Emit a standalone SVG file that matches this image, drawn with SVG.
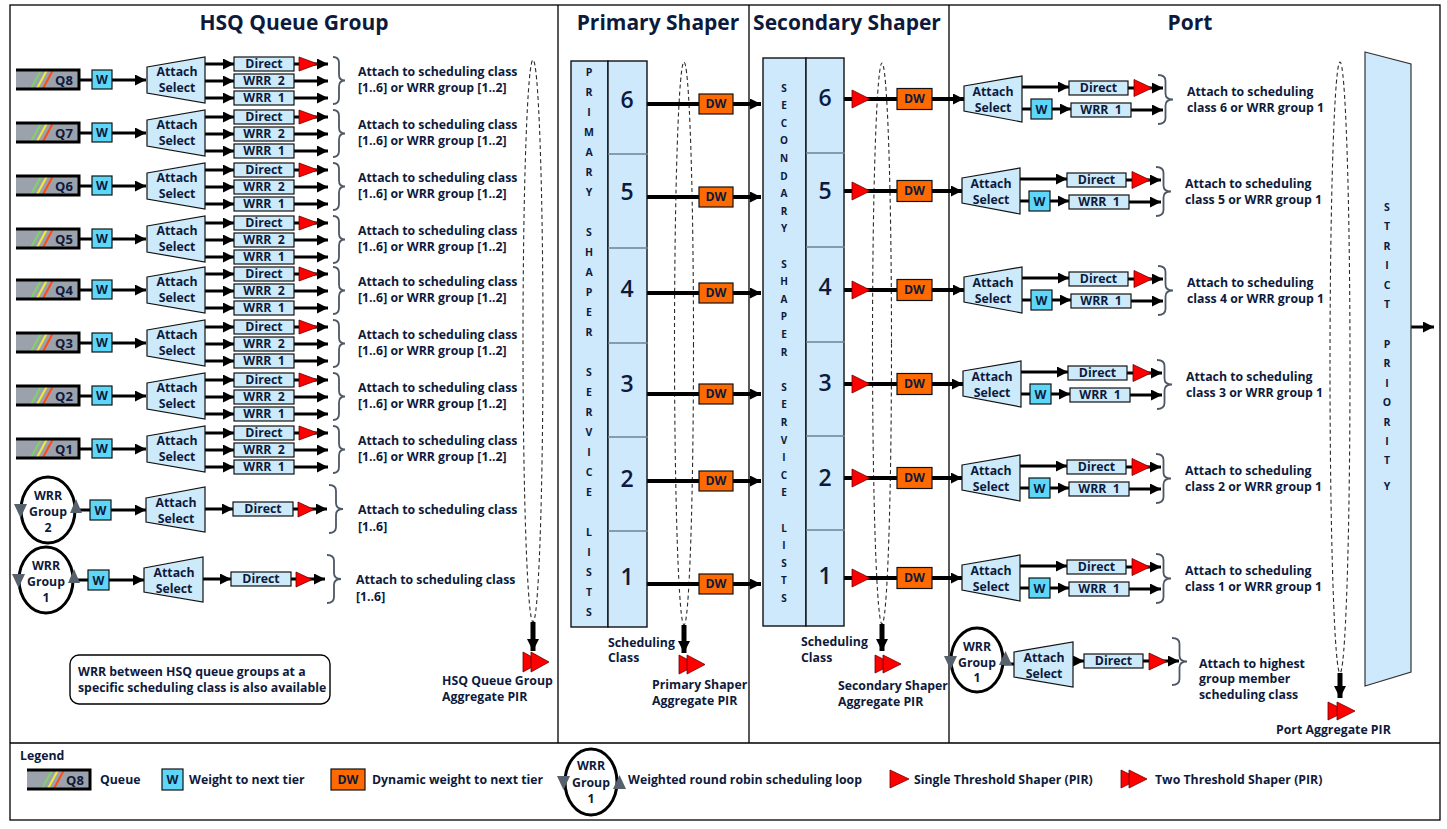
<svg xmlns="http://www.w3.org/2000/svg" width="1447" height="829" viewBox="0 0 1447 829">
<defs>
<style>
.t{font-family:"Open Sans","Liberation Sans",Arial,sans-serif;font-weight:700;fill:#0e1a3c}
.f12{font-size:12.3px}
.f13{font-size:13px}
.f11{font-size:10.5px}
.f10{font-size:10px}
.f21{font-size:21px}
.num{font-size:23px;font-weight:600}
.m{text-anchor:middle}
.box{fill:#cdeafb;stroke:#111;stroke-width:1.2}
.w{fill:#5dd6f7;stroke:#111;stroke-width:1.2}
.dw{fill:#ff6a00;stroke:#111;stroke-width:1.2}
.red{fill:#ff0000;stroke:#6b0000;stroke-width:0.8}
.gry{fill:#57616d}
.ln{fill:none;stroke:#000;stroke-width:3}
.ln2{fill:none;stroke:#000;stroke-width:4}
.lnb{fill:none;stroke:#000;stroke-width:5}
.a{marker-end:url(#ah)}
.ab{marker-end:url(#ahb)}
.br{fill:none;stroke:#4d5866;stroke-width:1.8}
.dash{fill:none;stroke:#2b2b2b;stroke-width:1.1;stroke-dasharray:4 3}
.fr{fill:none;stroke:#000;stroke-width:1.3}
.col{fill:#cde9fb;stroke:#111;stroke-width:1.4}
.div{stroke:#6e8294;stroke-width:1.4}
.loop{fill:#fff;stroke:#000;stroke-width:3}
.qbar{fill:#9ba2ab}
.qb{fill:none;stroke:#000;stroke-width:3}
.sg{stroke:#7ed36a;stroke-width:2}
.sy{stroke:#f4ea3c;stroke-width:2}
.sr{stroke:#ff4b17;stroke-width:2}
</style>
<marker id="ah" viewBox="0 0 10 10" refX="10" refY="5" markerWidth="11" markerHeight="11" markerUnits="userSpaceOnUse" orient="auto"><path d="M0,0 L10,5 L0,10 z" fill="#000"/></marker>
<marker id="ahb" viewBox="0 0 10 10" refX="10" refY="5" markerWidth="12" markerHeight="12" markerUnits="userSpaceOnUse" orient="auto"><path d="M0,0 L10,5 L0,10 z" fill="#000"/></marker>
</defs>
<rect x="0" y="0" width="1447" height="829" fill="#fff"/>

<g id="frame">
<rect class="fr" x="10" y="5" width="1430" height="815"/>
<path class="fr" d="M558,5V743 M749,5V743 M949,5V743 M10,743H1440"/>
<text class="t f21 m" x="294" y="30">HSQ Queue Group</text>
<text class="t f21 m" x="658" y="30">Primary Shaper</text>
<text class="t f21 m" x="847" y="30">Secondary Shaper</text>
<text class="t f21 m" x="1190" y="30">Port</text>
</g>

<g id="aggregate-loops">
<ellipse class="dash" cx="533" cy="341" rx="10" ry="281"/>
<ellipse class="dash" cx="684" cy="343.5" rx="9.5" ry="281.5"/>
<ellipse class="dash" cx="882" cy="343.5" rx="9.5" ry="280.5"/>
<ellipse class="dash" cx="1340" cy="367.5" rx="10" ry="305.5"/>
</g>

<g id="connectors">
<g id="c-q8" transform="translate(0,0)"><path class="ln" d="M79,80H92"/><path class="ln a" d="M112,80H146"/><path class="ln a" d="M205,64H234"/><path class="ln a" d="M205,81H234"/><path class="ln a" d="M205,98H234"/><path class="ln a" d="M294,64H328"/><path class="ln a" d="M294,81H328"/><path class="ln a" d="M294,98H328"/></g>
<g id="c-q7" transform="translate(0,53)"><path class="ln" d="M79,80H92"/><path class="ln a" d="M112,80H146"/><path class="ln a" d="M205,64H234"/><path class="ln a" d="M205,81H234"/><path class="ln a" d="M205,98H234"/><path class="ln a" d="M294,64H328"/><path class="ln a" d="M294,81H328"/><path class="ln a" d="M294,98H328"/></g>
<g id="c-q6" transform="translate(0,106)"><path class="ln" d="M79,80H92"/><path class="ln a" d="M112,80H146"/><path class="ln a" d="M205,64H234"/><path class="ln a" d="M205,81H234"/><path class="ln a" d="M205,98H234"/><path class="ln a" d="M294,64H328"/><path class="ln a" d="M294,81H328"/><path class="ln a" d="M294,98H328"/></g>
<g id="c-q5" transform="translate(0,159)"><path class="ln" d="M79,80H92"/><path class="ln a" d="M112,80H146"/><path class="ln a" d="M205,64H234"/><path class="ln a" d="M205,81H234"/><path class="ln a" d="M205,98H234"/><path class="ln a" d="M294,64H328"/><path class="ln a" d="M294,81H328"/><path class="ln a" d="M294,98H328"/></g>
<g id="c-q4" transform="translate(0,210)"><path class="ln" d="M79,80H92"/><path class="ln a" d="M112,80H146"/><path class="ln a" d="M205,64H234"/><path class="ln a" d="M205,81H234"/><path class="ln a" d="M205,98H234"/><path class="ln a" d="M294,64H328"/><path class="ln a" d="M294,81H328"/><path class="ln a" d="M294,98H328"/></g>
<g id="c-q3" transform="translate(0,263)"><path class="ln" d="M79,80H92"/><path class="ln a" d="M112,80H146"/><path class="ln a" d="M205,64H234"/><path class="ln a" d="M205,81H234"/><path class="ln a" d="M205,98H234"/><path class="ln a" d="M294,64H328"/><path class="ln a" d="M294,81H328"/><path class="ln a" d="M294,98H328"/></g>
<g id="c-q2" transform="translate(0,316)"><path class="ln" d="M79,80H92"/><path class="ln a" d="M112,80H146"/><path class="ln a" d="M205,64H234"/><path class="ln a" d="M205,81H234"/><path class="ln a" d="M205,98H234"/><path class="ln a" d="M294,64H328"/><path class="ln a" d="M294,81H328"/><path class="ln a" d="M294,98H328"/></g>
<g id="c-q1" transform="translate(0,369)"><path class="ln" d="M79,80H92"/><path class="ln a" d="M112,80H146"/><path class="ln a" d="M205,64H234"/><path class="ln a" d="M205,81H234"/><path class="ln a" d="M205,98H234"/><path class="ln a" d="M294,64H328"/><path class="ln a" d="M294,81H328"/><path class="ln a" d="M294,98H328"/></g>
<g id="c-g2"><path class="ln" d="M75,510H90"/><path class="ln a" d="M111,510H146"/><path class="ln a" d="M205,509H233"/><path class="ln a" d="M293,509H327"/></g>
<g id="c-g1" transform="translate(-2,70)"><path class="ln" d="M75,510H90"/><path class="ln a" d="M111,510H146"/><path class="ln a" d="M205,509H233"/><path class="ln a" d="M293,509H327"/></g>
<path class="lnb ab" d="M533,622V651"/>
<g id="c-primary">
<path class="ln2 a" d="M647,104H761"/><path class="ln2 a" d="M647,197H761"/><path class="ln2 a" d="M647,293H761"/><path class="ln2 a" d="M647,394H761"/><path class="ln2 a" d="M647,481H761"/><path class="ln2 a" d="M647,584H761"/>
</g>
<path class="lnb ab" d="M684,625V653"/>
<g id="c-secondary">
<path class="ln2" d="M844,99H897"/><path class="ln2 a" d="M932,99H964"/>
<path class="ln2" d="M844,191H897"/><path class="ln2 a" d="M932,191H962"/>
<path class="ln2" d="M844,290H897"/><path class="ln2 a" d="M932,290H964"/>
<path class="ln2" d="M844,384H897"/><path class="ln2 a" d="M932,384H963"/>
<path class="ln2" d="M844,478H897"/><path class="ln2 a" d="M932,478H962"/>
<path class="ln2" d="M844,578H897"/><path class="ln2 a" d="M932,578H962"/>
</g>
<path class="lnb ab" d="M882,624V651"/>
<g id="c-p6" transform="translate(0,0)"><path class="ln a" d="M1022,87H1069"/><path class="ln a" d="M1128,88H1163"/><path class="ln" d="M1022,109H1031"/><path class="ln a" d="M1052,109H1071"/><path class="ln a" d="M1131,110H1163"/></g>
<g id="c-p5" transform="translate(-2,92)"><path class="ln a" d="M1022,87H1069"/><path class="ln a" d="M1128,88H1163"/><path class="ln" d="M1022,109H1031"/><path class="ln a" d="M1052,109H1071"/><path class="ln a" d="M1131,110H1163"/></g>
<g id="c-p4" transform="translate(0,191)"><path class="ln a" d="M1022,87H1069"/><path class="ln a" d="M1128,88H1163"/><path class="ln" d="M1022,109H1031"/><path class="ln a" d="M1052,109H1071"/><path class="ln a" d="M1131,110H1163"/></g>
<g id="c-p3" transform="translate(-1,285)"><path class="ln a" d="M1022,87H1069"/><path class="ln a" d="M1128,88H1163"/><path class="ln" d="M1022,109H1031"/><path class="ln a" d="M1052,109H1071"/><path class="ln a" d="M1131,110H1163"/></g>
<g id="c-p2" transform="translate(-2,379)"><path class="ln a" d="M1022,87H1069"/><path class="ln a" d="M1128,88H1163"/><path class="ln" d="M1022,109H1031"/><path class="ln a" d="M1052,109H1071"/><path class="ln a" d="M1131,110H1163"/></g>
<g id="c-p1" transform="translate(-2,479)"><path class="ln a" d="M1022,87H1069"/><path class="ln a" d="M1128,88H1163"/><path class="ln" d="M1022,109H1031"/><path class="ln a" d="M1052,109H1071"/><path class="ln a" d="M1131,110H1163"/></g>
<g id="c-pg1"><path class="ln" d="M1003,664H1014"/><path class="ln a" d="M1073,661H1084"/><path class="ln a" d="M1143,661H1179"/></g>
<path class="lnb ab" d="M1340,673V698"/>
<path class="ln a" d="M1411,327H1434"/>
</g>

<!-- HSQ queue rows -->
<g id="hsq-q8" transform="translate(0,0)">
<g id="q8-queue"><rect class="qbar" x="16" y="69" width="63" height="21"/><path class="sg" d="M31,88.5L41,70.5"/><path class="sy" d="M37,88.5L47,70"/><path class="sr" d="M43,88.5L53,70"/><path class="qb" d="M16,70H79V89H16"/><text class="t f13 m" x="64" y="84.5">Q8</text></g>
<g id="q8-w"><rect class="w" x="92" y="70" width="20" height="19"/><text class="t f12 m" x="102" y="84">W</text></g>
<g id="q8-select"><polygon class="box" points="147,67 205,57 205,103 147,93"/><text class="t f12 m" x="177" y="75.5">Attach</text><text class="t f12 m" x="177" y="91.5">Select</text></g>
<g id="q8-direct"><rect class="box" x="234" y="57" width="60" height="14"/><text class="t f12 m" x="264" y="68.3">Direct</text></g>
<g id="q8-wrr2"><rect class="box" x="234" y="74" width="60" height="14"/><text class="t f12 m" x="264" y="85.3" word-spacing="3">WRR 2</text></g>
<g id="q8-wrr1"><rect class="box" x="234" y="91" width="60" height="14"/><text class="t f12 m" x="264" y="102.3" word-spacing="3">WRR 1</text></g>
<g id="q8-shaper"><polygon class="red" points="299,57 318,64 299,71"/></g>
<g id="q8-label"><path class="br" d="M333,57Q339,57 339,63V74.5Q339,80.5 345,80.5Q339,80.5 339,86.5V98Q339,104 333,104"/><text class="t f12" x="358" y="75.5">Attach to scheduling class</text><text class="t f12" x="358" y="91.5">[1..6] or WRR group [1..2]</text></g>
</g>
<g id="hsq-q7" transform="translate(0,53)">
<g id="q7-queue"><rect class="qbar" x="16" y="69" width="63" height="21"/><path class="sg" d="M31,88.5L41,70.5"/><path class="sy" d="M37,88.5L47,70"/><path class="sr" d="M43,88.5L53,70"/><path class="qb" d="M16,70H79V89H16"/><text class="t f13 m" x="64" y="84.5">Q7</text></g>
<g id="q7-w"><rect class="w" x="92" y="70" width="20" height="19"/><text class="t f12 m" x="102" y="84">W</text></g>
<g id="q7-select"><polygon class="box" points="147,67 205,57 205,103 147,93"/><text class="t f12 m" x="177" y="75.5">Attach</text><text class="t f12 m" x="177" y="91.5">Select</text></g>
<g id="q7-direct"><rect class="box" x="234" y="57" width="60" height="14"/><text class="t f12 m" x="264" y="68.3">Direct</text></g>
<g id="q7-wrr2"><rect class="box" x="234" y="74" width="60" height="14"/><text class="t f12 m" x="264" y="85.3" word-spacing="3">WRR 2</text></g>
<g id="q7-wrr1"><rect class="box" x="234" y="91" width="60" height="14"/><text class="t f12 m" x="264" y="102.3" word-spacing="3">WRR 1</text></g>
<g id="q7-shaper"><polygon class="red" points="299,57 318,64 299,71"/></g>
<g id="q7-label"><path class="br" d="M333,57Q339,57 339,63V74.5Q339,80.5 345,80.5Q339,80.5 339,86.5V98Q339,104 333,104"/><text class="t f12" x="358" y="75.5">Attach to scheduling class</text><text class="t f12" x="358" y="91.5">[1..6] or WRR group [1..2]</text></g>
</g>
<g id="hsq-q6" transform="translate(0,106)">
<g id="q6-queue"><rect class="qbar" x="16" y="69" width="63" height="21"/><path class="sg" d="M31,88.5L41,70.5"/><path class="sy" d="M37,88.5L47,70"/><path class="sr" d="M43,88.5L53,70"/><path class="qb" d="M16,70H79V89H16"/><text class="t f13 m" x="64" y="84.5">Q6</text></g>
<g id="q6-w"><rect class="w" x="92" y="70" width="20" height="19"/><text class="t f12 m" x="102" y="84">W</text></g>
<g id="q6-select"><polygon class="box" points="147,67 205,57 205,103 147,93"/><text class="t f12 m" x="177" y="75.5">Attach</text><text class="t f12 m" x="177" y="91.5">Select</text></g>
<g id="q6-direct"><rect class="box" x="234" y="57" width="60" height="14"/><text class="t f12 m" x="264" y="68.3">Direct</text></g>
<g id="q6-wrr2"><rect class="box" x="234" y="74" width="60" height="14"/><text class="t f12 m" x="264" y="85.3" word-spacing="3">WRR 2</text></g>
<g id="q6-wrr1"><rect class="box" x="234" y="91" width="60" height="14"/><text class="t f12 m" x="264" y="102.3" word-spacing="3">WRR 1</text></g>
<g id="q6-shaper"><polygon class="red" points="299,57 318,64 299,71"/></g>
<g id="q6-label"><path class="br" d="M333,57Q339,57 339,63V74.5Q339,80.5 345,80.5Q339,80.5 339,86.5V98Q339,104 333,104"/><text class="t f12" x="358" y="75.5">Attach to scheduling class</text><text class="t f12" x="358" y="91.5">[1..6] or WRR group [1..2]</text></g>
</g>
<g id="hsq-q5" transform="translate(0,159)">
<g id="q5-queue"><rect class="qbar" x="16" y="69" width="63" height="21"/><path class="sg" d="M31,88.5L41,70.5"/><path class="sy" d="M37,88.5L47,70"/><path class="sr" d="M43,88.5L53,70"/><path class="qb" d="M16,70H79V89H16"/><text class="t f13 m" x="64" y="84.5">Q5</text></g>
<g id="q5-w"><rect class="w" x="92" y="70" width="20" height="19"/><text class="t f12 m" x="102" y="84">W</text></g>
<g id="q5-select"><polygon class="box" points="147,67 205,57 205,103 147,93"/><text class="t f12 m" x="177" y="75.5">Attach</text><text class="t f12 m" x="177" y="91.5">Select</text></g>
<g id="q5-direct"><rect class="box" x="234" y="57" width="60" height="14"/><text class="t f12 m" x="264" y="68.3">Direct</text></g>
<g id="q5-wrr2"><rect class="box" x="234" y="74" width="60" height="14"/><text class="t f12 m" x="264" y="85.3" word-spacing="3">WRR 2</text></g>
<g id="q5-wrr1"><rect class="box" x="234" y="91" width="60" height="14"/><text class="t f12 m" x="264" y="102.3" word-spacing="3">WRR 1</text></g>
<g id="q5-shaper"><polygon class="red" points="299,57 318,64 299,71"/></g>
<g id="q5-label"><path class="br" d="M333,57Q339,57 339,63V74.5Q339,80.5 345,80.5Q339,80.5 339,86.5V98Q339,104 333,104"/><text class="t f12" x="358" y="75.5">Attach to scheduling class</text><text class="t f12" x="358" y="91.5">[1..6] or WRR group [1..2]</text></g>
</g>
<g id="hsq-q4" transform="translate(0,210)">
<g id="q4-queue"><rect class="qbar" x="16" y="69" width="63" height="21"/><path class="sg" d="M31,88.5L41,70.5"/><path class="sy" d="M37,88.5L47,70"/><path class="sr" d="M43,88.5L53,70"/><path class="qb" d="M16,70H79V89H16"/><text class="t f13 m" x="64" y="84.5">Q4</text></g>
<g id="q4-w"><rect class="w" x="92" y="70" width="20" height="19"/><text class="t f12 m" x="102" y="84">W</text></g>
<g id="q4-select"><polygon class="box" points="147,67 205,57 205,103 147,93"/><text class="t f12 m" x="177" y="75.5">Attach</text><text class="t f12 m" x="177" y="91.5">Select</text></g>
<g id="q4-direct"><rect class="box" x="234" y="57" width="60" height="14"/><text class="t f12 m" x="264" y="68.3">Direct</text></g>
<g id="q4-wrr2"><rect class="box" x="234" y="74" width="60" height="14"/><text class="t f12 m" x="264" y="85.3" word-spacing="3">WRR 2</text></g>
<g id="q4-wrr1"><rect class="box" x="234" y="91" width="60" height="14"/><text class="t f12 m" x="264" y="102.3" word-spacing="3">WRR 1</text></g>
<g id="q4-shaper"><polygon class="red" points="299,57 318,64 299,71"/></g>
<g id="q4-label"><path class="br" d="M333,57Q339,57 339,63V74.5Q339,80.5 345,80.5Q339,80.5 339,86.5V98Q339,104 333,104"/><text class="t f12" x="358" y="75.5">Attach to scheduling class</text><text class="t f12" x="358" y="91.5">[1..6] or WRR group [1..2]</text></g>
</g>
<g id="hsq-q3" transform="translate(0,263)">
<g id="q3-queue"><rect class="qbar" x="16" y="69" width="63" height="21"/><path class="sg" d="M31,88.5L41,70.5"/><path class="sy" d="M37,88.5L47,70"/><path class="sr" d="M43,88.5L53,70"/><path class="qb" d="M16,70H79V89H16"/><text class="t f13 m" x="64" y="84.5">Q3</text></g>
<g id="q3-w"><rect class="w" x="92" y="70" width="20" height="19"/><text class="t f12 m" x="102" y="84">W</text></g>
<g id="q3-select"><polygon class="box" points="147,67 205,57 205,103 147,93"/><text class="t f12 m" x="177" y="75.5">Attach</text><text class="t f12 m" x="177" y="91.5">Select</text></g>
<g id="q3-direct"><rect class="box" x="234" y="57" width="60" height="14"/><text class="t f12 m" x="264" y="68.3">Direct</text></g>
<g id="q3-wrr2"><rect class="box" x="234" y="74" width="60" height="14"/><text class="t f12 m" x="264" y="85.3" word-spacing="3">WRR 2</text></g>
<g id="q3-wrr1"><rect class="box" x="234" y="91" width="60" height="14"/><text class="t f12 m" x="264" y="102.3" word-spacing="3">WRR 1</text></g>
<g id="q3-shaper"><polygon class="red" points="299,57 318,64 299,71"/></g>
<g id="q3-label"><path class="br" d="M333,57Q339,57 339,63V74.5Q339,80.5 345,80.5Q339,80.5 339,86.5V98Q339,104 333,104"/><text class="t f12" x="358" y="75.5">Attach to scheduling class</text><text class="t f12" x="358" y="91.5">[1..6] or WRR group [1..2]</text></g>
</g>
<g id="hsq-q2" transform="translate(0,316)">
<g id="q2-queue"><rect class="qbar" x="16" y="69" width="63" height="21"/><path class="sg" d="M31,88.5L41,70.5"/><path class="sy" d="M37,88.5L47,70"/><path class="sr" d="M43,88.5L53,70"/><path class="qb" d="M16,70H79V89H16"/><text class="t f13 m" x="64" y="84.5">Q2</text></g>
<g id="q2-w"><rect class="w" x="92" y="70" width="20" height="19"/><text class="t f12 m" x="102" y="84">W</text></g>
<g id="q2-select"><polygon class="box" points="147,67 205,57 205,103 147,93"/><text class="t f12 m" x="177" y="75.5">Attach</text><text class="t f12 m" x="177" y="91.5">Select</text></g>
<g id="q2-direct"><rect class="box" x="234" y="57" width="60" height="14"/><text class="t f12 m" x="264" y="68.3">Direct</text></g>
<g id="q2-wrr2"><rect class="box" x="234" y="74" width="60" height="14"/><text class="t f12 m" x="264" y="85.3" word-spacing="3">WRR 2</text></g>
<g id="q2-wrr1"><rect class="box" x="234" y="91" width="60" height="14"/><text class="t f12 m" x="264" y="102.3" word-spacing="3">WRR 1</text></g>
<g id="q2-shaper"><polygon class="red" points="299,57 318,64 299,71"/></g>
<g id="q2-label"><path class="br" d="M333,57Q339,57 339,63V74.5Q339,80.5 345,80.5Q339,80.5 339,86.5V98Q339,104 333,104"/><text class="t f12" x="358" y="75.5">Attach to scheduling class</text><text class="t f12" x="358" y="91.5">[1..6] or WRR group [1..2]</text></g>
</g>
<g id="hsq-q1" transform="translate(0,369)">
<g id="q1-queue"><rect class="qbar" x="16" y="69" width="63" height="21"/><path class="sg" d="M31,88.5L41,70.5"/><path class="sy" d="M37,88.5L47,70"/><path class="sr" d="M43,88.5L53,70"/><path class="qb" d="M16,70H79V89H16"/><text class="t f13 m" x="64" y="84.5">Q1</text></g>
<g id="q1-w"><rect class="w" x="92" y="70" width="20" height="19"/><text class="t f12 m" x="102" y="84">W</text></g>
<g id="q1-select"><polygon class="box" points="147,67 205,57 205,103 147,93"/><text class="t f12 m" x="177" y="75.5">Attach</text><text class="t f12 m" x="177" y="91.5">Select</text></g>
<g id="q1-direct"><rect class="box" x="234" y="57" width="60" height="14"/><text class="t f12 m" x="264" y="68.3">Direct</text></g>
<g id="q1-wrr2"><rect class="box" x="234" y="74" width="60" height="14"/><text class="t f12 m" x="264" y="85.3" word-spacing="3">WRR 2</text></g>
<g id="q1-wrr1"><rect class="box" x="234" y="91" width="60" height="14"/><text class="t f12 m" x="264" y="102.3" word-spacing="3">WRR 1</text></g>
<g id="q1-shaper"><polygon class="red" points="299,57 318,64 299,71"/></g>
<g id="q1-label"><path class="br" d="M333,57Q339,57 339,63V74.5Q339,80.5 345,80.5Q339,80.5 339,86.5V98Q339,104 333,104"/><text class="t f12" x="358" y="75.5">Attach to scheduling class</text><text class="t f12" x="358" y="91.5">[1..6] or WRR group [1..2]</text></g>
</g>

<!-- HSQ WRR groups -->
<g id="hsq-g2">
<g id="g2-loop"><ellipse class="loop" cx="48" cy="510" rx="27" ry="33"/><polygon class="gry" points="14,504 27,504 20.5,518"/><polygon class="gry" points="70,513 82,513 76,499"/><text class="t f12 m" x="48" y="499.5">WRR</text><text class="t f12 m" x="48" y="515.5">Group</text><text class="t f12 m" x="48" y="531.5">2</text></g>
<g id="g2-w"><rect class="w" x="90" y="500" width="21" height="20"/><text class="t f12 m" x="100.5" y="514.5">W</text></g>
<g id="g2-select"><polygon class="box" points="146,498 205,487 205,532 146,522"/><text class="t f12 m" x="176" y="506.5">Attach</text><text class="t f12 m" x="176" y="522.5">Select</text></g>
<g id="g2-direct"><rect class="box" x="233" y="502" width="60" height="14"/><text class="t f12 m" x="263" y="513.3">Direct</text></g>
<g id="g2-shaper"><polygon class="red" points="298,502 314,509.5 298,517"/></g>
<g id="g2-label"><path class="br" d="M329,485Q336,485 336,491V503Q336,509 343,509Q336,509 336,515V527Q336,533 329,533"/><text class="t f12" x="358" y="514">Attach to scheduling class</text><text class="t f12" x="358" y="530.5">[1..6]</text></g>
</g>
<g id="hsq-g1" transform="translate(-2,70)">
<g id="g1-loop"><ellipse class="loop" cx="48" cy="510" rx="27" ry="33"/><polygon class="gry" points="14,504 27,504 20.5,518"/><polygon class="gry" points="70,513 82,513 76,499"/><text class="t f12 m" x="48" y="499.5">WRR</text><text class="t f12 m" x="48" y="515.5">Group</text><text class="t f12 m" x="48" y="531.5">1</text></g>
<g id="g1-w"><rect class="w" x="90" y="500" width="21" height="20"/><text class="t f12 m" x="100.5" y="514.5">W</text></g>
<g id="g1-select"><polygon class="box" points="146,498 205,487 205,532 146,522"/><text class="t f12 m" x="176" y="506.5">Attach</text><text class="t f12 m" x="176" y="522.5">Select</text></g>
<g id="g1-direct"><rect class="box" x="233" y="502" width="60" height="14"/><text class="t f12 m" x="263" y="513.3">Direct</text></g>
<g id="g1-shaper"><polygon class="red" points="298,502 314,509.5 298,517"/></g>
<g id="g1-label"><path class="br" d="M329,485Q336,485 336,491V503Q336,509 343,509Q336,509 336,515V527Q336,533 329,533"/><text class="t f12" x="358" y="514">Attach to scheduling class</text><text class="t f12" x="358" y="530.5">[1..6]</text></g>
</g>

<g id="hsq-note"><rect x="70" y="655" width="260" height="49" rx="9" fill="#fff" stroke="#000" stroke-width="1.4"/><text class="t f12" x="78" y="675.5">WRR between HSQ queue groups at a</text><text class="t f12" x="78" y="692">specific scheduling class is also available</text></g>

<g id="hsq-aggregate"><polygon class="red" points="523,652 541,662 523,672"/><polygon class="red" points="531,652 549,662 531,672"/><text class="t f12" x="442" y="684.5">HSQ Queue Group</text><text class="t f12" x="442" y="700.5">Aggregate PIR</text></g>

<!-- Primary shaper -->
<g id="primary-lists">
<rect class="col" x="571" y="61" width="37" height="566"/>
<rect class="col" x="608" y="61" width="39" height="566"/>
<path class="div" d="M608,154H648 M608,248H648 M608,343H648 M608,437H648 M608,531H648"/>
<text class="t f11 m"><tspan x="589" y="76">P</tspan><tspan x="589" y="96">R</tspan><tspan x="589" y="116">I</tspan><tspan x="589" y="136">M</tspan><tspan x="589" y="156">A</tspan><tspan x="589" y="176">R</tspan><tspan x="589" y="196">Y</tspan><tspan x="589" y="236">S</tspan><tspan x="589" y="256">H</tspan><tspan x="589" y="276">A</tspan><tspan x="589" y="296">P</tspan><tspan x="589" y="316">E</tspan><tspan x="589" y="336">R</tspan><tspan x="589" y="376">S</tspan><tspan x="589" y="396">E</tspan><tspan x="589" y="416">R</tspan><tspan x="589" y="436">V</tspan><tspan x="589" y="456">I</tspan><tspan x="589" y="476">C</tspan><tspan x="589" y="496">E</tspan><tspan x="589" y="536">L</tspan><tspan x="589" y="556">I</tspan><tspan x="589" y="576">S</tspan><tspan x="589" y="596">T</tspan><tspan x="589" y="616">S</tspan></text>
<text class="t num m" x="627" y="108">6</text><text class="t num m" x="627" y="200">5</text><text class="t num m" x="627" y="297">4</text><text class="t num m" x="627" y="392">3</text><text class="t num m" x="627" y="487">2</text><text class="t num m" x="627" y="585">1</text>
</g>
<g id="primary-dw">
<rect class="dw" x="699" y="94" width="34" height="20"/><text class="t f12 m" x="716" y="108.3">DW</text>
<rect class="dw" x="699" y="187" width="34" height="20"/><text class="t f12 m" x="716" y="201.3">DW</text>
<rect class="dw" x="699" y="283" width="34" height="20"/><text class="t f12 m" x="716" y="297.3">DW</text>
<rect class="dw" x="699" y="384" width="34" height="20"/><text class="t f12 m" x="716" y="398.3">DW</text>
<rect class="dw" x="699" y="471" width="34" height="20"/><text class="t f12 m" x="716" y="485.3">DW</text>
<rect class="dw" x="699" y="574" width="34" height="20"/><text class="t f12 m" x="716" y="588.3">DW</text>
</g>
<g id="primary-aggregate"><polygon class="red" points="679,655 697,664.5 679,674"/><polygon class="red" points="687,655 705,664.5 687,674"/><text class="t f12" x="608" y="646.5">Scheduling</text><text class="t f12" x="608" y="661.5">Class</text><text class="t f12" x="652" y="688.5">Primary Shaper</text><text class="t f12" x="652" y="704.5">Aggregate PIR</text></g>

<!-- Secondary shaper -->
<g id="secondary-lists">
<rect class="col" x="763" y="58" width="43" height="568"/>
<rect class="col" x="806" y="58" width="38" height="568"/>
<path class="div" d="M806,153H845 M806,247H845 M806,342H845 M806,436H845 M806,530H845"/>
<text class="t f10 m"><tspan x="784" y="91.6">S</tspan><tspan x="784" y="109.2">E</tspan><tspan x="784" y="126.8">C</tspan><tspan x="784" y="144.4">O</tspan><tspan x="784" y="162">N</tspan><tspan x="784" y="179.6">D</tspan><tspan x="784" y="197.2">A</tspan><tspan x="784" y="214.8">R</tspan><tspan x="784" y="232.4">Y</tspan><tspan x="784" y="267.6">S</tspan><tspan x="784" y="285.2">H</tspan><tspan x="784" y="302.8">A</tspan><tspan x="784" y="320.4">P</tspan><tspan x="784" y="338">E</tspan><tspan x="784" y="355.6">R</tspan><tspan x="784" y="390.8">S</tspan><tspan x="784" y="408.4">E</tspan><tspan x="784" y="426">R</tspan><tspan x="784" y="443.6">V</tspan><tspan x="784" y="461.2">I</tspan><tspan x="784" y="478.8">C</tspan><tspan x="784" y="496.4">E</tspan><tspan x="784" y="531.6">L</tspan><tspan x="784" y="549.2">I</tspan><tspan x="784" y="566.8">S</tspan><tspan x="784" y="584.4">T</tspan><tspan x="784" y="602">S</tspan></text>
<text class="t num m" x="825" y="106">6</text><text class="t num m" x="825" y="199">5</text><text class="t num m" x="825" y="295">4</text><text class="t num m" x="825" y="391">3</text><text class="t num m" x="825" y="486">2</text><text class="t num m" x="825" y="584">1</text>
</g>
<g id="secondary-shapers">
<polygon class="red" points="852,90 870,99 852,108"/><polygon class="red" points="852,182 870,191 852,200"/><polygon class="red" points="852,281 870,290 852,299"/><polygon class="red" points="852,375 870,384 852,393"/><polygon class="red" points="852,469 870,478 852,487"/><polygon class="red" points="852,569 870,578 852,587"/>
</g>
<g id="secondary-dw">
<rect class="dw" x="897" y="88.5" width="35" height="21"/><text class="t f12 m" x="914.5" y="103.3">DW</text>
<rect class="dw" x="897" y="180.5" width="35" height="21"/><text class="t f12 m" x="914.5" y="195.3">DW</text>
<rect class="dw" x="897" y="279.5" width="35" height="21"/><text class="t f12 m" x="914.5" y="294.3">DW</text>
<rect class="dw" x="897" y="373.5" width="35" height="21"/><text class="t f12 m" x="914.5" y="388.3">DW</text>
<rect class="dw" x="897" y="467.5" width="35" height="21"/><text class="t f12 m" x="914.5" y="482.3">DW</text>
<rect class="dw" x="897" y="567.5" width="35" height="21"/><text class="t f12 m" x="914.5" y="582.3">DW</text>
</g>
<g id="secondary-aggregate"><polygon class="red" points="875,655 893,664 875,673"/><polygon class="red" points="883,655 901,664 883,673"/><text class="t f12" x="801" y="645.5">Scheduling</text><text class="t f12" x="801" y="661.5">Class</text><text class="t f12" x="838" y="689.5">Secondary Shaper</text><text class="t f12" x="838" y="705.5">Aggregate PIR</text></g>

<!-- Port rows -->
<g id="port-c6" transform="translate(0,0)">
<g id="p6-select"><polygon class="box" points="964,86 1022,76 1022,122 964,111"/><text class="t f12 m" x="993" y="95.5">Attach</text><text class="t f12 m" x="993" y="111.5">Select</text></g>
<g id="p6-direct"><rect class="box" x="1069" y="81" width="59" height="14"/><text class="t f12 m" x="1098.5" y="92.3">Direct</text></g>
<g id="p6-shaper"><polygon class="red" points="1134,79.5 1152,88 1134,96.5"/></g>
<g id="p6-w"><rect class="w" x="1031" y="99" width="21" height="20"/><text class="t f12 m" x="1041.5" y="113.5">W</text></g>
<g id="p6-wrr1"><rect class="box" x="1071" y="103" width="60" height="14"/><text class="t f12 m" x="1101" y="114.3" word-spacing="3">WRR 1</text></g>
<g id="p6-label"><path class="br" d="M1158,75Q1165.5,75 1165.5,81V93.5Q1165.5,99.5 1173,99.5Q1165.5,99.5 1165.5,105.5V118Q1165.5,124 1158,124"/><text class="t f12" x="1187" y="95.5">Attach to scheduling</text><text class="t f12" x="1187" y="111.5">class 6 or WRR group 1</text></g>
</g>
<g id="port-c5" transform="translate(-2,92)">
<g id="p5-select"><polygon class="box" points="964,86 1022,76 1022,122 964,111"/><text class="t f12 m" x="993" y="95.5">Attach</text><text class="t f12 m" x="993" y="111.5">Select</text></g>
<g id="p5-direct"><rect class="box" x="1069" y="81" width="59" height="14"/><text class="t f12 m" x="1098.5" y="92.3">Direct</text></g>
<g id="p5-shaper"><polygon class="red" points="1134,79.5 1152,88 1134,96.5"/></g>
<g id="p5-w"><rect class="w" x="1031" y="99" width="21" height="20"/><text class="t f12 m" x="1041.5" y="113.5">W</text></g>
<g id="p5-wrr1"><rect class="box" x="1071" y="103" width="60" height="14"/><text class="t f12 m" x="1101" y="114.3" word-spacing="3">WRR 1</text></g>
<g id="p5-label"><path class="br" d="M1158,75Q1165.5,75 1165.5,81V93.5Q1165.5,99.5 1173,99.5Q1165.5,99.5 1165.5,105.5V118Q1165.5,124 1158,124"/><text class="t f12" x="1187" y="95.5">Attach to scheduling</text><text class="t f12" x="1187" y="111.5">class 5 or WRR group 1</text></g>
</g>
<g id="port-c4" transform="translate(0,191)">
<g id="p4-select"><polygon class="box" points="964,86 1022,76 1022,122 964,111"/><text class="t f12 m" x="993" y="95.5">Attach</text><text class="t f12 m" x="993" y="111.5">Select</text></g>
<g id="p4-direct"><rect class="box" x="1069" y="81" width="59" height="14"/><text class="t f12 m" x="1098.5" y="92.3">Direct</text></g>
<g id="p4-shaper"><polygon class="red" points="1134,79.5 1152,88 1134,96.5"/></g>
<g id="p4-w"><rect class="w" x="1031" y="99" width="21" height="20"/><text class="t f12 m" x="1041.5" y="113.5">W</text></g>
<g id="p4-wrr1"><rect class="box" x="1071" y="103" width="60" height="14"/><text class="t f12 m" x="1101" y="114.3" word-spacing="3">WRR 1</text></g>
<g id="p4-label"><path class="br" d="M1158,75Q1165.5,75 1165.5,81V93.5Q1165.5,99.5 1173,99.5Q1165.5,99.5 1165.5,105.5V118Q1165.5,124 1158,124"/><text class="t f12" x="1187" y="95.5">Attach to scheduling</text><text class="t f12" x="1187" y="111.5">class 4 or WRR group 1</text></g>
</g>
<g id="port-c3" transform="translate(-1,285)">
<g id="p3-select"><polygon class="box" points="964,86 1022,76 1022,122 964,111"/><text class="t f12 m" x="993" y="95.5">Attach</text><text class="t f12 m" x="993" y="111.5">Select</text></g>
<g id="p3-direct"><rect class="box" x="1069" y="81" width="59" height="14"/><text class="t f12 m" x="1098.5" y="92.3">Direct</text></g>
<g id="p3-shaper"><polygon class="red" points="1134,79.5 1152,88 1134,96.5"/></g>
<g id="p3-w"><rect class="w" x="1031" y="99" width="21" height="20"/><text class="t f12 m" x="1041.5" y="113.5">W</text></g>
<g id="p3-wrr1"><rect class="box" x="1071" y="103" width="60" height="14"/><text class="t f12 m" x="1101" y="114.3" word-spacing="3">WRR 1</text></g>
<g id="p3-label"><path class="br" d="M1158,75Q1165.5,75 1165.5,81V93.5Q1165.5,99.5 1173,99.5Q1165.5,99.5 1165.5,105.5V118Q1165.5,124 1158,124"/><text class="t f12" x="1187" y="95.5">Attach to scheduling</text><text class="t f12" x="1187" y="111.5">class 3 or WRR group 1</text></g>
</g>
<g id="port-c2" transform="translate(-2,379)">
<g id="p2-select"><polygon class="box" points="964,86 1022,76 1022,122 964,111"/><text class="t f12 m" x="993" y="95.5">Attach</text><text class="t f12 m" x="993" y="111.5">Select</text></g>
<g id="p2-direct"><rect class="box" x="1069" y="81" width="59" height="14"/><text class="t f12 m" x="1098.5" y="92.3">Direct</text></g>
<g id="p2-shaper"><polygon class="red" points="1134,79.5 1152,88 1134,96.5"/></g>
<g id="p2-w"><rect class="w" x="1031" y="99" width="21" height="20"/><text class="t f12 m" x="1041.5" y="113.5">W</text></g>
<g id="p2-wrr1"><rect class="box" x="1071" y="103" width="60" height="14"/><text class="t f12 m" x="1101" y="114.3" word-spacing="3">WRR 1</text></g>
<g id="p2-label"><path class="br" d="M1158,75Q1165.5,75 1165.5,81V93.5Q1165.5,99.5 1173,99.5Q1165.5,99.5 1165.5,105.5V118Q1165.5,124 1158,124"/><text class="t f12" x="1187" y="95.5">Attach to scheduling</text><text class="t f12" x="1187" y="111.5">class 2 or WRR group 1</text></g>
</g>
<g id="port-c1" transform="translate(-2,479)">
<g id="p1-select"><polygon class="box" points="964,86 1022,76 1022,122 964,111"/><text class="t f12 m" x="993" y="95.5">Attach</text><text class="t f12 m" x="993" y="111.5">Select</text></g>
<g id="p1-direct"><rect class="box" x="1069" y="81" width="59" height="14"/><text class="t f12 m" x="1098.5" y="92.3">Direct</text></g>
<g id="p1-shaper"><polygon class="red" points="1134,79.5 1152,88 1134,96.5"/></g>
<g id="p1-w"><rect class="w" x="1031" y="99" width="21" height="20"/><text class="t f12 m" x="1041.5" y="113.5">W</text></g>
<g id="p1-wrr1"><rect class="box" x="1071" y="103" width="60" height="14"/><text class="t f12 m" x="1101" y="114.3" word-spacing="3">WRR 1</text></g>
<g id="p1-label"><path class="br" d="M1158,75Q1165.5,75 1165.5,81V93.5Q1165.5,99.5 1173,99.5Q1165.5,99.5 1165.5,105.5V118Q1165.5,124 1158,124"/><text class="t f12" x="1187" y="95.5">Attach to scheduling</text><text class="t f12" x="1187" y="111.5">class 1 or WRR group 1</text></g>
</g>
<g id="port-g1">
<g id="pg1-loop"><ellipse class="loop" cx="977" cy="660" rx="26" ry="32"/><polygon class="gry" points="944,656 957,656 950.5,670"/><polygon class="gry" points="999,665 1012,665 1005.5,651"/><text class="t f12 m" x="977" y="650.5">WRR</text><text class="t f12 m" x="977" y="666.5">Group</text><text class="t f12 m" x="977" y="681.5">1</text></g>
<g id="pg1-select"><polygon class="box" points="1014,652 1073,642 1073,687 1014,677"/><text class="t f12 m" x="1044" y="661.5">Attach</text><text class="t f12 m" x="1044" y="677.5">Select</text></g>
<g id="pg1-direct"><rect class="box" x="1084" y="654" width="59" height="14"/><text class="t f12 m" x="1113.5" y="665.3">Direct</text></g>
<g id="pg1-shaper"><polygon class="red" points="1149,653 1167,661.5 1149,670"/></g>
<g id="pg1-label"><path class="br" d="M1172,638Q1179.5,638 1179.5,644V655.5Q1179.5,661.5 1187,661.5Q1179.5,661.5 1179.5,667.5V679Q1179.5,685 1172,685"/><text class="t f12" x="1199" y="667.5">Attach to highest</text><text class="t f12" x="1199" y="682.5">group member</text><text class="t f12" x="1199" y="698.5">scheduling class</text></g>
</g>
<g id="port-aggregate"><polygon class="red" points="1328,702 1346,711 1328,720"/><polygon class="red" points="1337,702 1355,711 1337,720"/><text class="t f12" x="1276" y="733.5">Port Aggregate PIR</text></g>
<g id="strict-priority"><polygon points="1365,52 1411,64 1411,672 1365,686" fill="#cde9fb" stroke="#333" stroke-width="1.2"/>
<text class="t f11 m"><tspan x="1387" y="211">S</tspan><tspan x="1387" y="230.4">T</tspan><tspan x="1387" y="249.8">R</tspan><tspan x="1387" y="269.2">I</tspan><tspan x="1387" y="288.6">C</tspan><tspan x="1387" y="308">T</tspan><tspan x="1387" y="348">P</tspan><tspan x="1387" y="367.4">R</tspan><tspan x="1387" y="386.8">I</tspan><tspan x="1387" y="406.2">O</tspan><tspan x="1387" y="425.6">R</tspan><tspan x="1387" y="445">I</tspan><tspan x="1387" y="464.4">T</tspan><tspan x="1387" y="490">Y</tspan></text>
</g>

<!-- Legend -->
<g id="legend">
<text class="t f12" x="20" y="760">Legend</text>
<g id="lg-queue" transform="translate(11,700)"><rect class="qbar" x="16" y="69" width="63" height="21"/><path class="sg" d="M31,88.5L41,70.5"/><path class="sy" d="M37,88.5L47,70"/><path class="sr" d="M43,88.5L53,70"/><path class="qb" d="M16,70H79V89H16"/><text class="t f13 m" x="64" y="84.5">Q8</text></g>
<text class="t f12" x="100" y="783.5">Queue</text>
<g id="lg-w"><rect class="w" x="162" y="769" width="21" height="21"/><text class="t f12 m" x="172.5" y="784">W</text></g>
<text class="t f12" x="189" y="783.5">Weight to next tier</text>
<g id="lg-dw"><rect class="dw" x="331" y="769" width="34" height="21"/><text class="t f12 m" x="348" y="784">DW</text></g>
<text class="t f12" x="372" y="783.5">Dynamic weight to next tier</text>
<g id="lg-loop"><ellipse class="loop" cx="591" cy="782" rx="26" ry="33"/><polygon class="gry" points="557,776 570,776 563.5,790"/><polygon class="gry" points="613,789 626,789 619.5,775"/><text class="t f12 m" x="591" y="770">WRR</text><text class="t f12 m" x="591" y="787">Group</text><text class="t f12 m" x="591" y="803">1</text></g>
<text class="t f12" x="628" y="783.5">Weighted round robin scheduling loop</text>
<polygon class="red" points="890,770 909,779 890,788"/>
<text class="t f12" x="914" y="783.5">Single Threshold Shaper (PIR)</text>
<polygon class="red" points="1121,770 1139,779 1121,788"/><polygon class="red" points="1129,770 1147,779 1129,788"/>
<text class="t f12" x="1155" y="783.5">Two Threshold Shaper (PIR)</text>
</g>
</svg>
